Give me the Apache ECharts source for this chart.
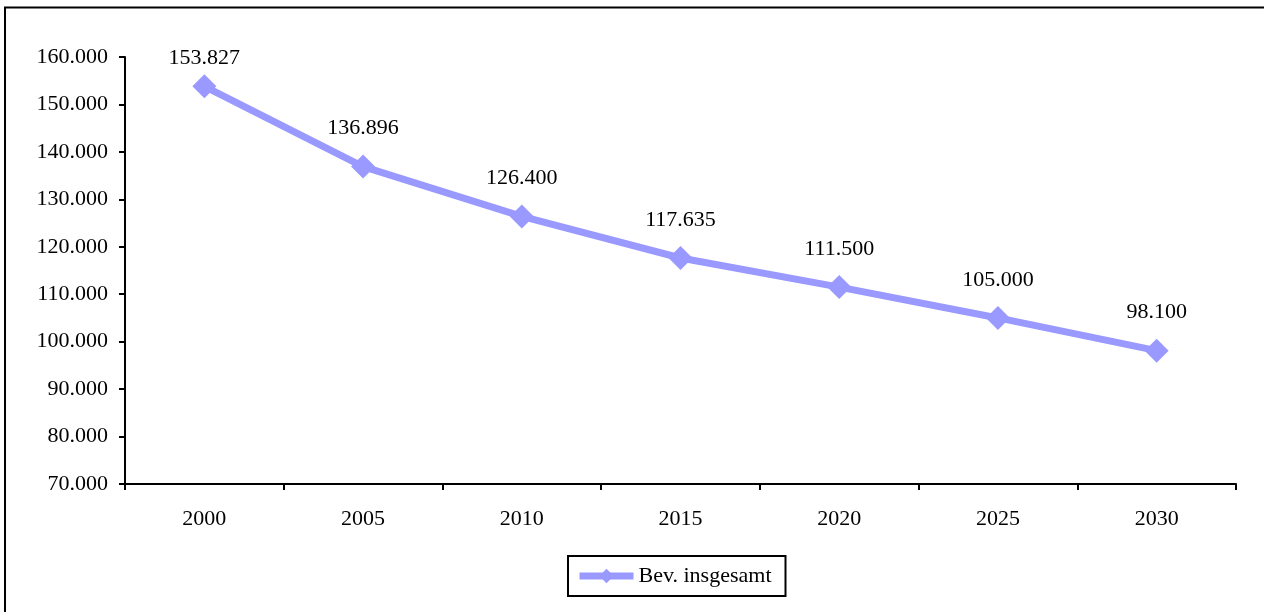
<!DOCTYPE html>
<html>
<head>
<meta charset="utf-8">
<script src="https://cdn.jsdelivr.net/npm/echarts@6/dist/echarts.min.js"></script>
<style>
html, body { margin: 0; padding: 0; background: #fff; }
#chart { width: 1264px; height: 612px; }
</style>
</head>
<body>
<div id="chart"></div>
<script>
// Bevölkerungsentwicklung 2000–2030
const years = ['2000', '2005', '2010', '2015', '2020', '2025', '2030'];
const population = [153827, 136896, 126400, 117635, 111500, 105000, 98100];
const seriesName = 'Bev. insgesamt';

// German thousands separator: 153827 -> "153.827"
function fmt(v) {
  return String(Math.round(v)).replace(/\B(?=(\d{3})+(?!\d))/g, '.');
}

const FONT = '"Liberation Serif", "Times New Roman", serif';
const chart = echarts.init(document.getElementById('chart'), null, { renderer: 'canvas' });

// The first label sits closer to its point so it stays inside the plot area.
const points = population.map((v, i) => (
  i === 0 ? { value: v, label: { distance: 5 } } : v
));

chart.setOption({
  animation: false,
  backgroundColor: '#ffffff',
  textStyle: { fontFamily: FONT, color: '#000' },
  graphic: [{
    type: 'rect',
    shape: { x: 5, y: 7.5, width: 1300, height: 700 },
    style: { fill: 'none', stroke: '#000', lineWidth: 2 },
    silent: true,
    z: 0
  }],
  grid: { left: 125, right: 28, top: 57, bottom: 128, containLabel: false },
  xAxis: {
    type: 'category',
    data: years,
    boundaryGap: true,
    axisLine: { lineStyle: { color: '#000', width: 2 } },
    axisTick: { show: true, inside: false, length: 6, lineStyle: { color: '#000', width: 2 } },
    axisLabel: { fontFamily: FONT, fontSize: 22, color: '#000', margin: 24 },
    splitLine: { show: false }
  },
  yAxis: {
    type: 'value',
    min: 70000,
    max: 160000,
    interval: 10000,
    axisLine: { show: true, lineStyle: { color: '#000', width: 2 } },
    axisTick: { show: true, inside: false, length: 6, lineStyle: { color: '#000', width: 2 } },
    axisLabel: { fontFamily: FONT, fontSize: 22, color: '#000', margin: 17, formatter: fmt },
    splitLine: { show: false }
  },
  legend: {
    data: [seriesName],
    bottom: 16,
    left: 568,
    borderColor: '#000',
    borderWidth: 2,
    borderRadius: 0,
    padding: [9, 14, 9, 8],
    itemWidth: 54,
    itemHeight: 18,
    itemGap: 4,
    lineStyle: { width: 7, color: '#9999FF' },
    textStyle: { fontFamily: FONT, fontSize: 22, color: '#000' }
  },
  series: [{
    name: seriesName,
    type: 'line',
    data: points,
    symbol: 'diamond',
    symbolSize: 24,
    showAllSymbol: true,
    lineStyle: { color: '#9999FF', width: 7 },
    itemStyle: { color: '#9999FF' },
    label: {
      show: true,
      position: 'top',
      distance: 15,
      fontFamily: FONT,
      fontSize: 22,
      color: '#000',
      formatter: p => fmt(p.value)
    }
  }]
});
</script>
</body>
</html>
